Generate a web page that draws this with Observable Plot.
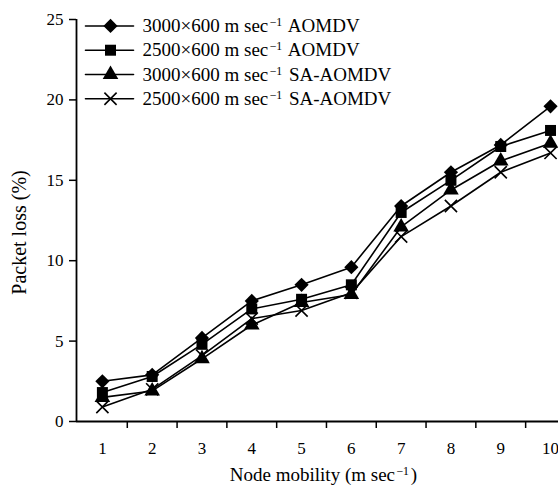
<!DOCTYPE html>
<html><head><meta charset="utf-8">
<script src="https://cdn.jsdelivr.net/npm/d3@7"></script>
<script src="https://cdn.jsdelivr.net/npm/@observablehq/plot@0.6"></script>
<style>body{margin:0;background:#fff;overflow:hidden;} svg text{font-family:"Liberation Serif",serif !important;}</style>
</head><body><div id="chart"></div>
<script>
const mobility = [1, 2, 3, 4, 5, 6, 7, 8, 9, 10];
const seriesNames = [
  "3000×600 m sec⁻¹ AOMDV",
  "2500×600 m sec⁻¹ AOMDV",
  "3000×600 m sec⁻¹ SA-AOMDV",
  "2500×600 m sec⁻¹ SA-AOMDV"
];
const aomdv3000 = [2.5, 2.9, 5.2, 7.5, 8.5, 9.6, 13.4, 15.5, 17.2, 19.6];
const aomdv2500 = [1.8, 2.8, 4.8, 7.0, 7.6, 8.5, 13.0, 15.0, 17.1, 18.1];
const saAomdv3000 = [1.5, 1.9, 3.9, 6.0, 7.4, 7.9, 12.1, 14.4, 16.2, 17.3];
const saAomdv2500 = [0.9, 2.0, 4.1, 6.4, 6.9, 8.0, 11.5, 13.4, 15.5, 16.7];
const yTicks = [0, 5, 10, 15, 20, 25];
const xLabel = "Node mobility (m sec⁻¹)";
const yLabel = "Packet loss (%)";

const seriesValues = [aomdv3000, aomdv2500, saAomdv3000, saAomdv2500];
const symbols = ["diamond2", "square", "triangle", "times"];
const sizes = [6.4, 6.2, 5.8, 5.6];

const rows = [];
seriesValues.forEach((vals, s) => vals.forEach((v, i) => rows.push({series: seriesNames[s], x: mobility[i], y: v})));

// legend (placed in data space, top-left)
const legendRows = seriesNames.map((name, i) => ({series: name, y: 24.6 - i * 1.51}));
const legendLines = legendRows.flatMap(d => [{series: d.series, x: 0.66, y: d.y}, {series: d.series, x: 1.625, y: d.y}]);

const font = "Liberation Serif";
const midTicks = mobility.slice(0, -1).map(v => v + 0.5);

const dotMarks = seriesNames.map((name, s) => [
  Plot.dot(rows.filter(d => d.series === name), {x: "x", y: "y", symbol: () => symbols[s], r: sizes[s], fill: s === 3 ? "none" : "black", stroke: "black", strokeWidth: s === 3 ? 1.6 : 0}),
  Plot.dot(legendRows.filter(d => d.series === name), {x: 1.163, y: "y", symbol: () => symbols[s], r: sizes[s], fill: s === 3 ? "none" : "black", stroke: "black", strokeWidth: s === 3 ? 1.6 : 0})
]);

const chart = Plot.plot({
  width: 558,
  height: 487,
  marginLeft: 76,
  marginRight: 0,
  marginTop: 19,
  marginBottom: 66,
  style: {fontFamily: font, fontSize: "17px", color: "black", background: "white", overflow: "visible"},
  x: {domain: [0.48, 10.16]},
  y: {domain: [0, 25]},
  symbol: {domain: symbols, range: symbols},
  marks: [
    Plot.axisX({ticks: midTicks, tickSize: 7, tickFormat: () => "", strokeWidth: 1.5, label: null}),
    Plot.axisX({ticks: mobility, tickSize: 0, tickPadding: 20, tickFormat: d => String(d), fontSize: 17, fontFamily: font, label: null}),
    Plot.axisY({ticks: yTicks, tickSize: 7, tickPadding: 6, strokeWidth: 1.5, fontSize: 17, fontFamily: font, label: null}),
    Plot.ruleY([0], {strokeWidth: 1.8}),
    Plot.ruleX([0.48], {y1: 0, y2: 25, strokeWidth: 1.8}),
    Plot.line(rows, {x: "x", y: "y", z: "series", stroke: "black", strokeWidth: 1.6}),
    Plot.line(legendLines, {x: "x", y: "y", z: "series", stroke: "black", strokeWidth: 1.6}),
    ...dotMarks.flat(),
    Plot.text(legendRows, {x: 1.806, y: "y", text: "series", textAnchor: "start", fontSize: 19, fontFamily: font, fill: "black"}),
    Plot.text([xLabel], {frameAnchor: "bottom", textAnchor: "middle", lineAnchor: "middle", dy: 53, dx: 6, text: d => d, fontSize: 19, fontFamily: font, fill: "black"}),
    Plot.text([yLabel], {frameAnchor: "left", textAnchor: "middle", lineAnchor: "middle", dx: -57, dy: 12, rotate: -90, text: d => d, fontSize: 20, fontFamily: font, fill: "black"})
  ]
});

d3.select(chart).selectAll("text").style("font-family", "'Liberation Serif', serif");

// render superscript "⁻¹" as raised "−1"
d3.select(chart).selectAll("text").each(function() {
  const t = this.textContent;
  if (!t.includes("⁻¹")) return;
  const [a, b] = t.split("⁻¹");
  const sel = d3.select(this);
  sel.text(null);
  sel.append("tspan").text(a);
  sel.append("tspan").attr("dx", "0.12em").attr("dy", "-0.5em").attr("font-size", "0.62em").text("−1");
  sel.append("tspan").attr("dx", "0.1em").attr("dy", "0.31em").text(b);
});

document.getElementById("chart").appendChild(chart);
</script>
</body></html>
